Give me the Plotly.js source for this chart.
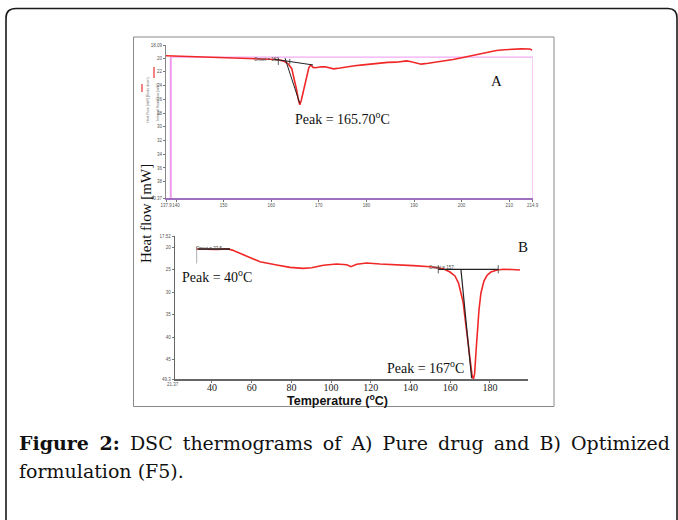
<!DOCTYPE html>
<html><head><meta charset="utf-8">
<script src="https://cdn.plot.ly/plotly-3.0.1.min.js"></script>
<style>
body{margin:0;background:#fff;}
#wrap{position:relative;width:678px;height:520px;overflow:hidden;background:#fff;}
#chart{position:absolute;left:0;top:0;width:678px;height:520px;}
.cap{position:absolute;left:19px;font-family:"DejaVu Serif",serif;font-size:19px;color:#111;line-height:24px;}
#cap1{top:431px;width:651px;text-align:justify;text-align-last:justify;}
#cap2{top:459px;white-space:nowrap;}
</style></head><body>
<div id="wrap"><div id="chart"></div>
<div class="cap" id="cap1"><b>Figure 2:</b> DSC thermograms of A) Pure drug and B) Optimized</div>
<div class="cap" id="cap2">formulation (F5).</div>
</div>
<script>
// ---- Panel A : pure drug ----
const tempA = [137.9,141.0,144.3,148.0,151.3,154.5,156.9,159.0,161.1,162.5,163.5,164.3,164.8,165.3,165.7,166.0,166.3,166.7,167.1,167.5,167.9,168.3,168.8,169.3,169.8,170.5,171.3,172.2,173.1,174.5,175.8,177.5,179.3,181.0,182.8,184.5,186.3,187.5,188.4,189.2,189.8,190.6,191.5,193.0,194.7,196.5,198.2,200.3,202.0,203.8,205.5,207.3,209.0,210.8,212.5,214.3,214.8];
const heatA = [19.66,19.72,19.80,19.88,19.95,20.00,20.05,20.10,20.20,20.40,20.80,21.50,22.80,24.50,26.00,26.80,26.20,25.00,23.60,22.30,21.40,21.00,21.35,21.40,21.30,21.25,21.27,21.45,21.56,21.45,21.27,21.10,20.98,20.85,20.68,20.62,20.59,20.50,20.40,20.50,20.59,20.75,20.88,20.75,20.59,20.40,20.20,19.90,19.65,19.41,19.15,18.90,18.78,18.68,18.66,18.68,18.83];
const baseA_T = [160.5,168.8];
const baseA_H = [20.15,21.0];
const tanA_T = [162.9,166.0];
const tanA_H = [20.0,26.6];
const tickA_x = [137.9,140,150,160,170,180,190,200,210,214.9];
const tickA_y = [18.09,20,22,24,26,28,30,32,34,36,38,40.37];

// ---- Panel B : optimized formulation ----
const tempB = [32.3,34.8,38.0,42.0,46.0,48.2,50.2,52.5,58.1,64.2,72.6,79.3,86.0,90.2,96.1,102.8,107.9,110.0,112.9,117.9,124.6,133.1,141.4,149.8,156.5,159.9,162.4,164.2,165.4,166.5,167.6,168.7,170.0,171.0,171.7,172.3,173.0,173.8,174.5,175.5,177.0,178.5,180.5,183.6,186.8,191.0,195.2];
const heatB = [20.40,20.45,20.55,20.50,20.42,20.40,20.65,21.10,22.18,23.22,23.95,24.47,24.69,24.55,24.00,23.73,23.88,24.33,23.80,23.51,23.73,24.00,24.10,24.33,24.77,25.51,26.39,27.95,29.94,32.16,36.15,40.59,45.47,48.35,49.24,48.10,43.25,38.37,33.93,30.16,27.50,26.28,25.51,25.06,24.90,24.95,25.06];
const baseB_T = [154.0,184.2];
const baseB_H = [24.9,24.9];
const tanB_T = [165.4,170.8];
const tanB_H = [24.9,49.07];
const onsetB_T = [33.1,49.1];
const onsetB_H = [20.4,20.4];
const tickB_x = [40,60,80,100,120,140,160,180];
const tickB_y = [17.52,20,25,30,35,40,45,49.3];

const W = 678, H = 520;
const fx = x => x / W, fy = y => 1 - y / H;
const red = '#f02828';

const traces = [
  {x: tempA, y: heatA, xaxis:'x', yaxis:'y', mode:'lines', line:{color:red, width:1.6}},
  {x: baseA_T, y: baseA_H, xaxis:'x', yaxis:'y', mode:'lines', line:{color:'#222', width:1}},
  {x: tanA_T, y: tanA_H, xaxis:'x', yaxis:'y', mode:'lines', line:{color:'#222', width:1}},
  {x: tempB, y: heatB, xaxis:'x2', yaxis:'y2', mode:'lines', line:{color:red, width:1.6}},
  {x: baseB_T, y: baseB_H, xaxis:'x2', yaxis:'y2', mode:'lines', line:{color:'#222', width:1.2}},
  {x: tanB_T, y: tanB_H, xaxis:'x2', yaxis:'y2', mode:'lines', line:{color:'#222', width:1.2}},
  {x: onsetB_T, y: onsetB_H, xaxis:'x2', yaxis:'y2', mode:'lines', line:{color:'#222', width:1.3}}
];

const smallTick = {family:'Liberation Sans, Arial', size:4.5, color:'#555'};
const axBase = {showgrid:false, zeroline:false, showline:true, ticks:'outside', ticklen:2, tickcolor:'#777', fixedrange:true, tickangle:0};

const serif = 'Liberation Serif, Times New Roman, serif';
function ann(x, y, text, size, extra) {
  return Object.assign({xref:'paper', yref:'paper', x:fx(x), y:fy(y), text:text, showarrow:false,
    xanchor:'center', yanchor:'middle', font:{family:serif, size:size, color:'#111'}}, extra || {});
}

const layout = {
  width: W, height: H, margin:{l:0, r:0, t:0, b:0},
  paper_bgcolor:'rgba(0,0,0,0)', plot_bgcolor:'rgba(0,0,0,0)', showlegend:false,
  xaxis: Object.assign({}, axBase, {domain:[fx(166), fx(533)], range:[137.9, 215.0], anchor:'y',
    tickvals: tickA_x, ticktext: tickA_x.map(String), tickfont: smallTick, linecolor:'#a070c0', linewidth:1.5}),
  yaxis: Object.assign({}, axBase, {domain:[fy(198), fy(45)], range:[40.37, 18.09], anchor:'x',
    tickvals: tickA_y, ticktext: tickA_y.map(String), tickfont: smallTick, linecolor:'#888', linewidth:1}),
  xaxis2: Object.assign({}, axBase, {domain:[fx(175), fx(528)], range:[21.37, 199.2], anchor:'y2',
    tickvals: tickB_x, ticktext: tickB_x.map(String), tickfont:{family:serif, size:10, color:'#222'},
    ticklabelstandoff:-4, linecolor:'#666', linewidth:1.3}),
  yaxis2: Object.assign({}, axBase, {domain:[fy(379.3), fy(236)], range:[49.3, 17.52], anchor:'x2',
    tickvals: tickB_y, ticktext: tickB_y.map(String), tickfont: smallTick, linecolor:'#666', linewidth:1.3}),
  shapes: [
    {type:'path', xref:'paper', yref:'paper', layer:'above',
     path:`M ${fx(6)},${fy(540)} L ${fx(6)},${fy(18)} Q ${fx(6)},${fy(8.5)} ${fx(16)},${fy(8.5)} L ${fx(668)},${fy(8.5)} Q ${fx(677)},${fy(8.5)} ${fx(677)},${fy(18)} L ${fx(677)},${fy(540)}`,
     line:{color:'#1a1a1a', width:1.6}},
    {type:'rect', xref:'paper', yref:'paper', x0:fx(133.5), x1:fx(554), y0:fy(406.5), y1:fy(37),
     line:{color:'#8a8a8a', width:1}},
    {type:'line', xref:'x', yref:'y', x0:138.9, x1:138.9, y0:19.85, y1:40.37, line:{color:'#ee99ee', width:2}},
    {type:'line', xref:'x', yref:'y', x0:138.9, x1:215.0, y0:19.85, y1:19.85, line:{color:'#f4aaf4', width:1.2}, layer:'below'},
    {type:'line', xref:'x', yref:'y', x0:215.0, x1:215.0, y0:19.85, y1:40.37, line:{color:'#f4aaf4', width:1.2}},
    {type:'line', xref:'x', yref:'y', x0:161.5, x1:161.5, y0:19.98, y1:21.0, line:{color:'#333', width:0.8}},
    {type:'line', xref:'x', yref:'y', x0:163.9, x1:163.9, y0:20.1, y1:20.9, line:{color:'#333', width:0.8}},
    {type:'line', xref:'x2', yref:'y2', x0:154.0, x1:154.0, y0:24.0, y1:25.8, line:{color:'#333', width:0.8}},
    {type:'line', xref:'x2', yref:'y2', x0:184.2, x1:184.2, y0:24.0, y1:25.8, line:{color:'#333', width:0.8}},
    {type:'line', xref:'x2', yref:'y2', x0:32.3, x1:32.3, y0:19.9, y1:23.6, line:{color:'#999', width:0.8}},
    {type:'line', xref:'paper', yref:'paper', x0:fx(154), x1:fx(154), y0:fy(67), y1:fy(78), line:{color:'#f04040', width:1.3}},
    {type:'line', xref:'paper', yref:'paper', x0:fx(142), x1:fx(142), y0:fy(84), y1:fy(92), line:{color:'#f04040', width:1.3}}
  ],
  annotations: [
    ann(497, 81, 'A', 15),
    ann(342, 118, 'Peak = 165.70<sup>o</sup>C', 14),
    ann(523, 247, 'B', 15),
    ann(217, 275.5, 'Peak = 40<sup>o</sup>C', 14),
    ann(425, 366.5, 'Peak = 167<sup>o</sup>C', 14),
    ann(146, 214, 'Heat flow [mW]', 15, {textangle:-90}),
    ann(337, 400, '<b>Temperature (<sup>o</sup>C)</b>', 12.5, {font:{family:'Liberation Sans, Arial, sans-serif', size:12.5, color:'#111'}}),
    ann(173, 384, '21.37', 4.5, {font:smallTick}),
    ann(267, 59, 'Onset = 162.', 4.5, {font:{family:'Liberation Sans', size:4.5, color:'#444'}}),
    ann(209, 248, 'Onset = 33.5', 4.5, {font:{family:'Liberation Sans', size:4.5, color:'#444'}}),
    ann(442, 267, 'Onset = 157.', 4.5, {font:{family:'Liberation Sans', size:4.5, color:'#444'}}),
    ann(148, 100, 'Heat Flow [mW] (Endo down)', 3.5, {textangle:-90, font:{family:'Liberation Sans', size:3.5, color:'#666'}}),
    ann(158, 102, 'Integral Heat Flow [mW]', 3.5, {textangle:-90, font:{family:'Liberation Sans', size:3.5, color:'#666'}})
  ]
};

Plotly.newPlot('chart', traces, layout, {displayModeBar:false, staticPlot:true});
</script>
</body></html>
